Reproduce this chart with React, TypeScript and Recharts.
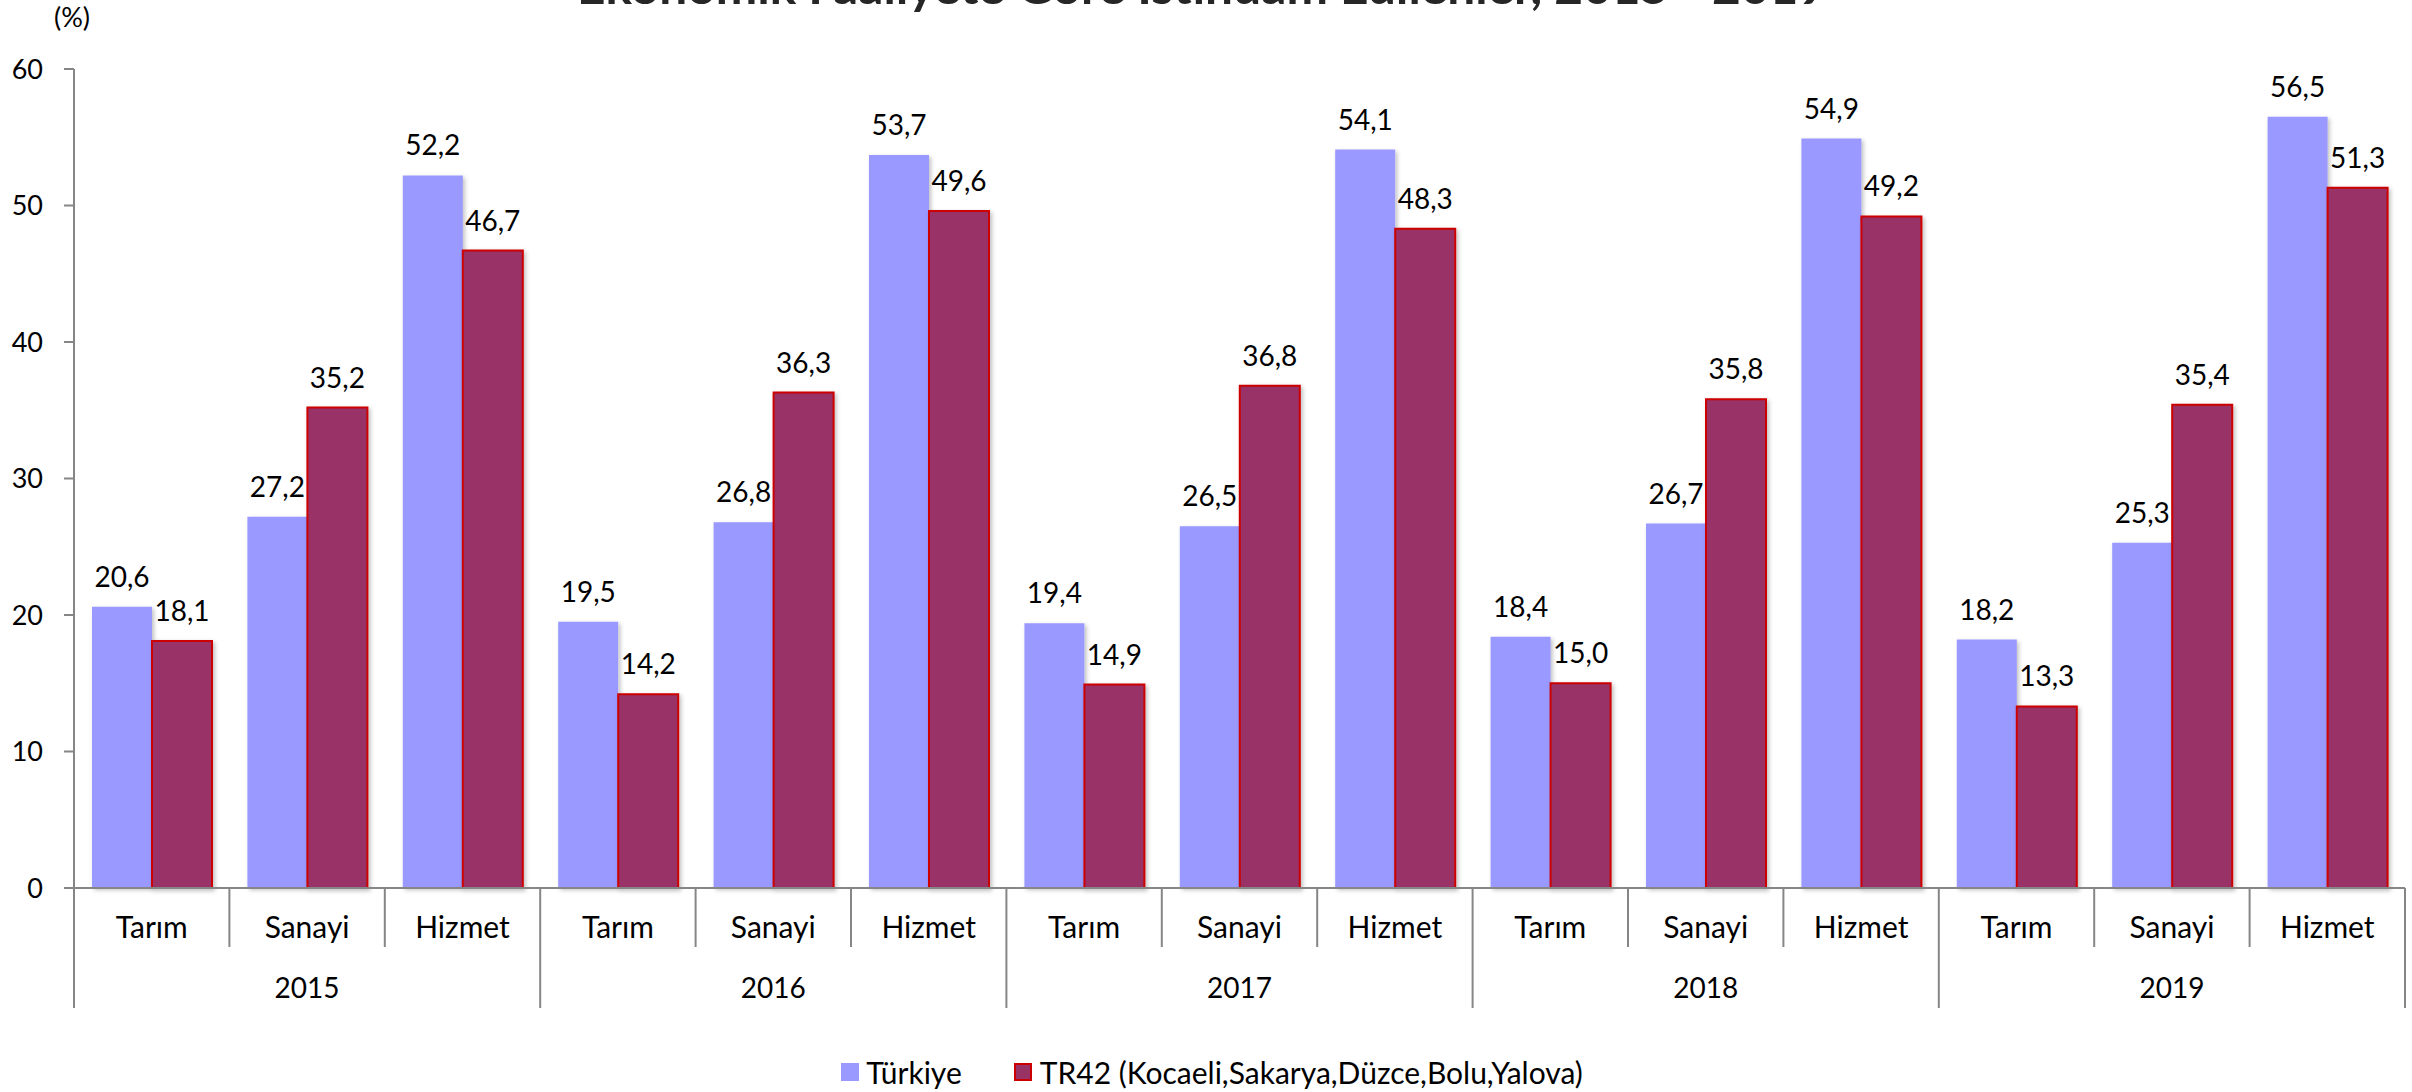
import React from 'react';
import { BarChart, Bar, XAxis, YAxis, LabelList, Legend, Rectangle } from 'recharts';

const categories = ['Tarım', 'Sanayi', 'Hizmet'];
const years = ['2015', '2016', '2017', '2018', '2019'];
const turkiye = [20.6, 27.2, 52.2, 19.5, 26.8, 53.7, 19.4, 26.5, 54.1, 18.4, 26.7, 54.9, 18.2, 25.3, 56.5];
const tr42 = [18.1, 35.2, 46.7, 14.2, 36.3, 49.6, 14.9, 36.8, 48.3, 15.0, 35.8, 49.2, 13.3, 35.4, 51.3];
const yTicks = [0, 10, 20, 30, 40, 50, 60];
const seriesNames = ['Türkiye', 'TR42 (Kocaeli,Sakarya,Düzce,Bolu,Yalova)'];
const title = 'Ekonomik Faaliyete Göre İstihdam Edilenler, 2015 - 2019';
const unitLabel = '(%)';

const data = turkiye.map((v, i) => ({
  id: `${years[Math.floor(i / 3)]}-${categories[i % 3]}`,
  cat: categories[i % 3],
  year: years[Math.floor(i / 3)],
  turkiye: v,
  tr42: tr42[i],
}));

const BLUE = '#9999FF';
const RED_FILL = '#993366';
const RED_STROKE = '#CC0000';
const AXIS = '#868686';
const FONT = 'Lato, "Open Sans", sans-serif';

const fmt = (v: any) => (typeof v === 'number' ? v.toFixed(1).replace('.', ',') : v);

const XTick = (props: any) => {
  const { x, y, payload, width, visibleTicksCount } = props;
  const i = payload.index;
  const n = visibleTicksCount || data.length;
  const band = width ? width / n : 155.33;
  const left = x - band / 2;
  const right = x + band / 2;
  const d = data[i];
  const yearStart = i % 3 === 0;
  const last = i === n - 1;
  return (
    <g>
      <line x1={left} x2={left} y1={y} y2={y + (yearStart ? 120 : 59)} stroke={AXIS} strokeWidth={2} />
      {last && <line x1={right} x2={right} y1={y} y2={y + 120} stroke={AXIS} strokeWidth={2} />}
      <text x={x} y={y + 50} textAnchor="middle" fontSize={30} fontFamily={FONT} fill="#000">{d.cat}</text>
      {i % 3 === 1 && (
        <text x={x} y={y + 110} textAnchor="middle" fontSize={28} fontFamily={FONT} fill="#000">{d.year}</text>
      )}
    </g>
  );
};

const ShadowBar = (props: any) => <Rectangle {...props} filter="url(#barShadow)" />;

const LegendContent = () => (
  <div style={{ display: 'flex', justifyContent: 'center', alignItems: 'center', fontFamily: FONT, fontSize: 30, lineHeight: '30px', color: '#000', paddingLeft: 12 }}>
    <span style={{ display: 'inline-block', width: 18, height: 18, background: BLUE, marginRight: 7 }} />
    <span style={{ marginRight: 52 }}>{seriesNames[0]}</span>
    <span style={{ display: 'inline-block', width: 18, height: 18, background: RED_FILL, border: `2px solid ${RED_STROKE}`, boxSizing: 'border-box', marginRight: 8 }} />
    <span>{seriesNames[1]}</span>
  </div>
);

export default function App() {
  return (
    <div style={{ position: 'absolute', left: 0, top: 0, width: 2412, height: 1092, background: '#fff', overflow: 'hidden', fontFamily: FONT }}>
      <svg width={2412} height={60} style={{ position: 'absolute', left: 0, top: 0 }}>
        <text x={1202} y={4} textAnchor="middle" fontSize={48} fontWeight={700} fontFamily={FONT} fill="#262626" textLength={1250} lengthAdjust="spacingAndGlyphs">{title}</text>
        <text x={72} y={27} textAnchor="middle" fontSize={27} fontFamily={FONT} fill="#000">{unitLabel}</text>
      </svg>
      <BarChart
        width={2412}
        height={1092}
        data={data}
        margin={{ top: 69, right: 7, bottom: 0, left: 0 }}
        barGap={0}
      >
        <defs>
          <filter id="barShadow" x="-10%" y="-10%" width="130%" height="130%">
            <feDropShadow dx="2" dy="2" stdDeviation="2" floodColor="#000" floodOpacity="0.25" />
          </filter>
        </defs>
        <XAxis
          dataKey="id"
          height={204}
          axisLine={{ stroke: AXIS, strokeWidth: 2 }}
          tickLine={false}
          tickSize={0}
          tickMargin={0}
          interval={0}
          tick={<XTick />}
        />
        <YAxis
          width={74}
          domain={[0, 60]}
          ticks={yTicks}
          interval={0}
          axisLine={{ stroke: AXIS, strokeWidth: 2 }}
          tickLine={{ stroke: AXIS, strokeWidth: 2 }}
          tickSize={10}
          tickMargin={21}
          tick={{ fontSize: 27, fill: '#000', fontFamily: FONT }}
        />
        <Legend
          layout="horizontal"
          verticalAlign="middle"
          align="center"
          wrapperStyle={{ top: 1057, left: 0, width: 2412 }}
          content={<LegendContent />}
        />
        <Bar dataKey="turkiye" name={seriesNames[0]} fill={BLUE} barSize={60} isAnimationActive={false} shape={ShadowBar}>
          <LabelList dataKey="turkiye" position="top" offset={20} formatter={fmt} style={{ fontSize: 28, fill: '#000', fontFamily: FONT }} />
        </Bar>
        <Bar dataKey="tr42" name={seriesNames[1]} fill={RED_FILL} stroke={RED_STROKE} strokeWidth={2} barSize={60} isAnimationActive={false} shape={ShadowBar}>
          <LabelList dataKey="tr42" position="top" offset={20} formatter={fmt} style={{ fontSize: 28, fill: '#000', fontFamily: FONT }} />
        </Bar>
      </BarChart>
    </div>
  );
}
